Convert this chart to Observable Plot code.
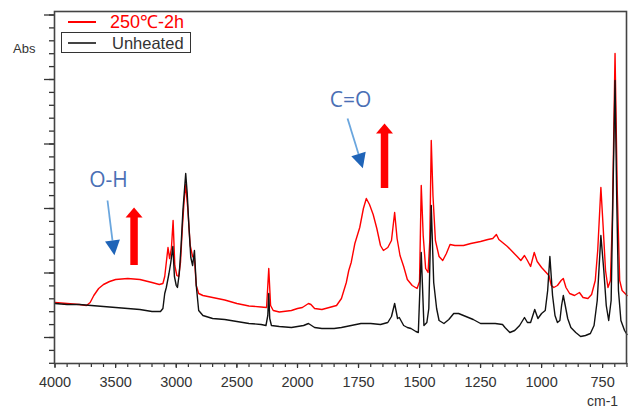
<!DOCTYPE html>
<html><head><meta charset="utf-8">
<script src="https://cdn.jsdelivr.net/npm/d3@7"></script>
<script src="https://cdn.jsdelivr.net/npm/@observablehq/plot@0.6"></script>
<style>
body{margin:0;background:#fff;}
#wrap{position:relative;width:635px;height:408px;font-family:"Liberation Sans",Arial,sans-serif;}
.abs-label{position:absolute;left:13px;top:41px;font-size:13px;color:#333;}
.unit-label{position:absolute;left:587px;top:393px;font-size:14px;color:#333;}
.leg-red-line{position:absolute;left:68px;top:21px;width:28px;height:2px;background:#ff0000;}
.leg-red-text{position:absolute;left:110px;top:12px;font-size:18px;color:#ff0000;line-height:20px;}
.leg-box{position:absolute;left:61px;top:32px;width:128px;height:19px;border:1.5px solid #333;background:#fff;}
.leg-black-line{position:absolute;left:68px;top:42px;width:28px;height:2px;background:#444;}
.leg-black-text{position:absolute;left:112px;top:34px;font-size:16.5px;color:#333;line-height:18px;}
</style></head><body>
<div id="wrap"></div>
<script>
// Unheated spectrum (black)
const unheatedWn = [4000,3900,3800,3700,3600,3500,3400,3300,3200,3130,3110,3095,3082,3060,3045,3028,3015,3000,2990,2975,2960,2945,2922,2910,2895,2880,2865,2850,2835,2815,2780,2700,2600,2500,2400,2300,2260,2245,2237,2229,2215,2150,2050,2000,1975,1955,1930,1900,1850,1820,1780,1740,1700,1660,1630,1615,1602,1590,1583,1565,1550,1535,1515,1505,1493,1482,1470,1462,1452,1442,1430,1420,1400,1380,1360,1340,1310,1280,1250,1220,1190,1160,1150,1130,1110,1090,1070,1058,1045,1028,1015,1000,985,975,966,955,945,935,925,918,911,903,893,880,860,840,820,800,785,772,757,745,735,725,715,708,699,692,685,675,660,650];
const unheatedAbs = [0.60,0.59,0.59,0.58,0.57,0.56,0.55,0.54,0.52,0.52,0.55,0.70,0.76,0.90,1.01,1.17,0.87,0.78,0.76,0.90,1.18,1.53,1.90,1.71,1.36,1.06,0.98,1.13,0.78,0.53,0.48,0.45,0.44,0.42,0.40,0.39,0.38,0.48,0.70,0.45,0.38,0.37,0.36,0.37,0.38,0.40,0.36,0.35,0.35,0.36,0.38,0.40,0.40,0.39,0.41,0.47,0.60,0.45,0.46,0.38,0.36,0.35,0.32,0.31,1.11,0.38,0.41,0.55,1.58,0.81,0.55,0.43,0.40,0.44,0.50,0.50,0.47,0.44,0.40,0.40,0.40,0.39,0.36,0.31,0.33,0.38,0.46,0.41,0.41,0.54,0.45,0.50,0.53,0.73,1.07,0.68,0.48,0.41,0.43,0.58,0.68,0.58,0.45,0.36,0.31,0.27,0.28,0.30,0.38,0.63,1.28,0.93,0.58,0.43,0.63,1.63,2.83,1.63,0.73,0.43,0.33,0.29];

// 250℃-2h spectrum (red)
const heatedWn = [4000,3900,3800,3740,3710,3680,3640,3600,3550,3500,3400,3300,3200,3140,3110,3095,3082,3068,3055,3040,3026,3012,2995,2980,2965,2950,2935,2922,2905,2885,2865,2850,2835,2815,2780,2700,2600,2500,2400,2300,2255,2237,2222,2200,2150,2050,2000,1980,1955,1945,1930,1900,1870,1840,1820,1800,1790,1780,1765,1745,1730,1718,1705,1690,1675,1660,1648,1630,1615,1602,1592,1580,1565,1550,1530,1510,1500,1493,1485,1475,1465,1458,1452,1445,1435,1420,1405,1390,1375,1355,1320,1290,1250,1220,1200,1185,1175,1160,1140,1120,1100,1085,1070,1058,1045,1030,1018,1000,985,970,960,950,935,920,911,900,885,865,845,830,810,795,780,770,757,748,738,728,718,710,699,690,680,670,650];
const heatedAbs = [0.61,0.60,0.59,0.58,0.61,0.68,0.75,0.79,0.82,0.84,0.85,0.84,0.81,0.79,0.80,0.87,1.01,1.16,1.05,1.15,1.43,0.98,0.88,0.87,1.01,1.35,1.63,1.79,1.55,1.18,1.07,1.05,0.78,0.70,0.68,0.66,0.635,0.60,0.575,0.565,0.56,0.95,0.58,0.53,0.515,0.53,0.55,0.56,0.60,0.59,0.55,0.54,0.56,0.58,0.65,0.81,0.93,1.01,1.20,1.36,1.55,1.65,1.59,1.49,1.35,1.18,1.13,1.16,1.23,1.51,1.25,1.08,0.97,0.84,0.78,0.75,0.82,1.78,1.28,0.95,0.91,1.23,2.23,1.68,1.23,1.07,1.03,1.10,1.19,1.18,1.18,1.20,1.22,1.24,1.25,1.29,1.24,1.21,1.17,1.12,1.07,1.03,1.08,1.03,0.97,1.11,1.02,0.96,0.92,0.88,0.78,0.76,0.78,0.83,0.85,0.76,0.70,0.68,0.71,0.66,0.65,0.69,0.83,1.13,1.76,1.38,0.93,0.76,0.83,1.43,3.10,1.73,0.83,0.73,0.68];

// Axis ticks
const xTickLabels = [4000,3500,3000,2500,2000,1750,1500,1250,1000,750];
const xMinorTicks = d3.range(4000, 2000, -100).concat(d3.range(2000, 649, -50));
const yMajorTicks = [0.26,0.905,1.55,2.195,2.84,3.485];
const yMinorTicks = d3.range(-2, 26).map(j => 0.26 + 0.129 * j).filter(v => v >= 0 && v <= 3.52);

// Annotations
const labelText = ["O-H","C=O"];
const labelWn = [3559,1783];
const labelAbs = [1.83,2.63];
const blueStartWn = [3567,1795];
const blueStartAbs = [1.63,2.45];
const blueHeadWn = [3526,1750];
const blueHeadAbs = [1.23,2.095];
const blueHeadAngle = [172.5,163.3];
const redArrowWn = [3348,1643.5];
const redArrowBottom = [0.98,1.75];
const redArrowTop = [1.46,2.30];

const unheated = unheatedWn.map((w,i)=>({wn:w, a:unheatedAbs[i]}));
const heated = heatedWn.map((w,i)=>({wn:w, a:heatedAbs[i]}));
const labels = labelText.map((t,i)=>({t, wn:labelWn[i], a:labelAbs[i]}));
const blue = blueStartWn.map((w,i)=>({x1:w, y1:blueStartAbs[i], x2:blueHeadWn[i], y2:blueHeadAbs[i], rot:blueHeadAngle[i]}));
const red = redArrowWn.map((w,i)=>({wn:w, y1:redArrowBottom[i], y2:redArrowTop[i]}));

const chart = Plot.plot({
  width: 635, height: 408,
  marginLeft: 54, marginRight: 9, marginTop: 11, marginBottom: 45,
  style: {fontFamily: '"Liberation Sans", Arial, sans-serif', fontSize: "14px", color: "#333", background: "white"},
  x: {type: "linear", domain: [4000, 2000, 650], range: [54.5, 297, 626.5]},
  y: {domain: [0, 3.52], range: [363, 11]},
  marks: [
    Plot.axisX({ticks: xMinorTicks, tickSize: 4, tickFormat: () => "", strokeWidth: 1.2}),
    Plot.axisX({ticks: xTickLabels, tickSize: 5, tickPadding: 8, fontSize: 14.5, strokeWidth: 1.2, tickFormat: d => String(d)}),
    Plot.axisY({ticks: yMinorTicks, tickSize: 5, tickFormat: () => "", strokeWidth: 1.3}),
    Plot.axisY({ticks: yMajorTicks, tickSize: 10, tickFormat: () => "", strokeWidth: 1.3}),
    Plot.line(heated, {x: "wn", y: "a", stroke: "#ff0000", strokeWidth: 1.4}),
    Plot.line(unheated, {x: "wn", y: "a", stroke: "#111", strokeWidth: 1.4}),
    Plot.link(blue, {x1: "x1", y1: "y1", x2: "x2", y2: "y2", stroke: "#6aa6de", strokeWidth: 1.8}),
    Plot.vector(blue, {x: "x2", y: "y2", rotate: "rot", length: 15, r: 7.5, shape: "spike", anchor: "start", fill: "#1f64b8", stroke: "none"}),
    Plot.ruleX(red, {x: "wn", y1: "y1", y2: "y2", stroke: "#ff0000", strokeWidth: 7.5}),
    Plot.vector(red, {x: "wn", y: "y2", length: 10, r: 8.5, shape: "spike", anchor: "start", fill: "#ff0000", stroke: "none"}),
    Plot.text(labels, {x: "wn", y: "a", text: "t", fontSize: 21, fill: "#4a6fb5", fontFamily: '"Open Sans", sans-serif'}),
    Plot.frame({stroke: "#444", strokeWidth: 1.6})
  ]
});
const wrap = document.getElementById("wrap");
wrap.appendChild(chart);
wrap.insertAdjacentHTML("beforeend",
  '<div class="abs-label">Abs</div>' +
  '<div class="unit-label">cm-1</div>' +
  '<div class="leg-red-line"></div><div class="leg-red-text">250℃-2h</div>' +
  '<div class="leg-box"></div><div class="leg-black-line"></div><div class="leg-black-text">Unheated</div>');
</script>
</body></html>
